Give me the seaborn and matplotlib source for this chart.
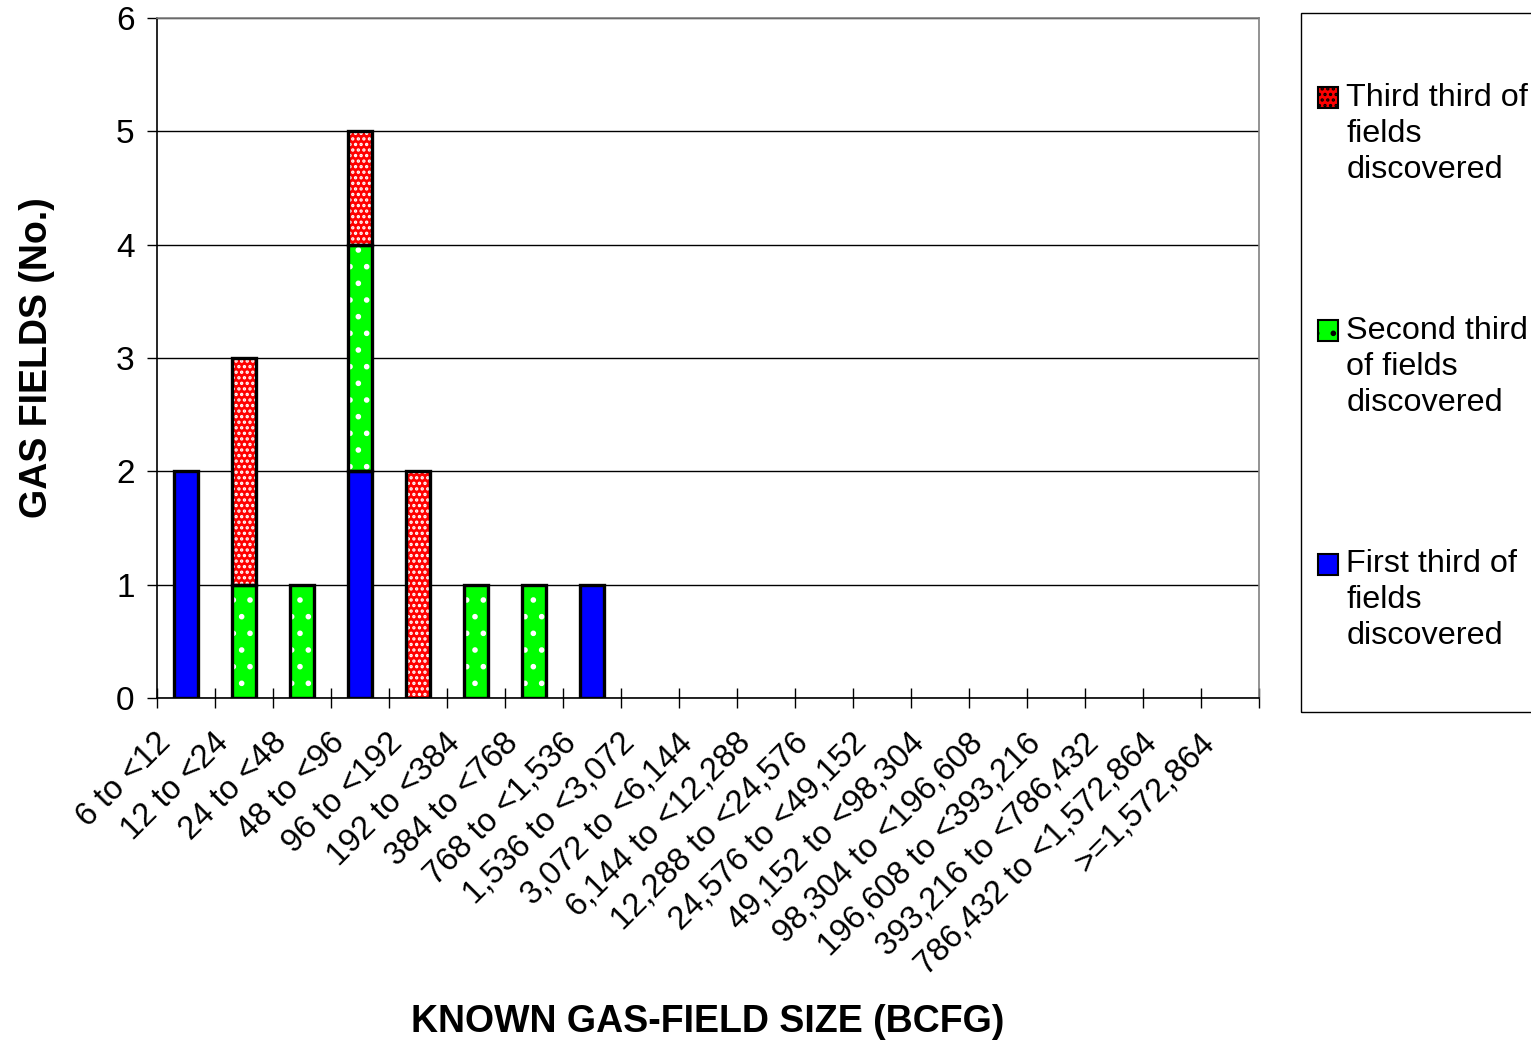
import numpy as np
import pandas as pd
import seaborn as sns
import matplotlib.pyplot as plt
import matplotlib.transforms as mtransforms
from matplotlib.patches import Patch, Rectangle

# Field size classes (BCFG)
size_classes = ["6 to <12", "12 to <24", "24 to <48", "48 to <96", "96 to <192",
                "192 to <384", "384 to <768", "768 to <1,536", "1,536 to <3,072",
                "3,072 to <6,144", "6,144 to <12,288", "12,288 to <24,576",
                "24,576 to <49,152", "49,152 to <98,304", "98,304 to <196,608",
                "196,608 to <393,216", "393,216 to <786,432", "786,432 to <1,572,864",
                ">=1,572,864"]

first_third = [2, 0, 0, 2, 0, 0, 0, 1, 0, 0, 0, 0, 0, 0, 0, 0, 0, 0, 0]
second_third = [0, 1, 1, 2, 0, 1, 1, 0, 0, 0, 0, 0, 0, 0, 0, 0, 0, 0, 0]
third_third = [0, 2, 0, 1, 2, 0, 0, 0, 0, 0, 0, 0, 0, 0, 0, 0, 0, 0, 0]

labels = ["First third of\nfields\ndiscovered",
          "Second third\nof fields\ndiscovered",
          "Third third of\nfields\ndiscovered"]

df = pd.DataFrame({"size": size_classes, "first": first_third,
                   "second": second_third, "third": third_third})

sns.set_style("white")
plt.rcParams["font.family"] = ["Liberation Sans", "DejaVu Sans"]
plt.rcParams["hatch.linewidth"] = 1.6
plt.rcParams["text.color"] = "black"
plt.rcParams["axes.labelcolor"] = "black"
plt.rcParams["xtick.color"] = "black"
plt.rcParams["ytick.color"] = "black"

fig = plt.figure(figsize=(15.31, 10.42), dpi=100)
ax = fig.add_axes([0.1025, 0.3301, 0.7198, 0.6526])

width = 0.42
bottom2 = df["first"].values
bottom3 = df["first"].values + df["second"].values

# fills (hatch in white) then black outlines on top
series = [("first", np.zeros(len(df)), "#0000FF", None),
          ("second", bottom2, "#00FF00", "."),
          ("third", bottom3, "#FF0000", "...")]
for col, bot, color, hatch in series:
    sns.barplot(data=df, x="size", y=col, ax=ax, color=color, width=width,
                bottom=bot, saturation=1, edgecolor="white", linewidth=0,
                hatch=hatch, zorder=3)
    n0 = len(ax.patches)
    sns.barplot(data=df, x="size", y=col, ax=ax, color="black", width=width,
                bottom=bot, fill=False, zorder=4)
    for p in ax.patches[n0:]:
        p.set_edgecolor("black")
        p.set_linewidth(2.4)
        p.set_zorder(4)

# hide zero-height bars
for p in ax.patches:
    if p.get_height() == 0:
        p.set_visible(False)

ax.set_xlim(-0.5, len(size_classes) - 0.5)
ax.set_ylim(0, 6)
ax.set_yticks(range(0, 7))
ax.yaxis.grid(True, color="black", linewidth=1)
ax.set_axisbelow(True)

ax.set_xticks(range(len(size_classes)))
ax.set_xticks(np.arange(-0.5, len(size_classes)), minor=True)
ax.tick_params(axis="x", which="major", bottom=True, length=0, pad=29)
ax.tick_params(axis="x", which="minor", bottom=True, direction="inout",
               length=14, width=1, color="black")
ax.tick_params(axis="y", left=True, direction="out", length=7, width=1,
               color="black", labelsize=24, pad=9)
ax.set_xticklabels(size_classes, rotation=45, ha="right", va="center",
                   rotation_mode="anchor", fontsize=23.5)
shift = mtransforms.ScaledTranslation(-20 / 100, 0, fig.dpi_scale_trans)
for lab in ax.get_xticklabels():
    lab.set_transform(lab.get_transform() + shift)

for s in ["left", "bottom"]:
    ax.spines[s].set_color("black")
    ax.spines[s].set_linewidth(1.2)
for s in ["top", "right"]:
    ax.spines[s].set_color("#808080")
    ax.spines[s].set_linewidth(1.2)

ax.set_xlabel("KNOWN GAS-FIELD SIZE (BCFG)", fontsize=27, fontweight="bold")
ax.set_ylabel("GAS FIELDS (No.)", fontsize=27, fontweight="bold")
ax.xaxis.set_label_coords(0.5, -0.45)
ax.yaxis.set_label_coords(-0.0925, 0.5)

# legend: frame drawn separately so padding can differ horizontally/vertically
fs = 23.3
leg_handles = [Patch(facecolor="#FF0000", edgecolor="black", hatch="...",
                     linewidth=1.5),
               Patch(facecolor="#00FF00", edgecolor="black", hatch=".",
                     linewidth=1.5),
               Patch(facecolor="#0000FF", edgecolor="black", linewidth=1.5)]
leg = fig.legend(leg_handles, labels[::-1], loc="upper left",
                 bbox_to_anchor=(1318 / 1531, 1 - 83 / 1042), fontsize=fs,
                 frameon=False, labelspacing=4.07, borderpad=0,
                 handlelength=0.62, handleheight=0.62, handletextpad=0.25,
                 borderaxespad=0)
for t in leg.get_texts():
    t.set_linespacing(1.25)
for h in leg.legend_handles:
    h.set_y(h.get_y() + 26)

fig.add_artist(Rectangle((1301 / 1531, 1 - 712 / 1042), 0.2, (712 - 13) / 1042,
                         transform=fig.transFigure, fill=False,
                         edgecolor="black", linewidth=1))

fig.savefig("out.png", dpi=100)
